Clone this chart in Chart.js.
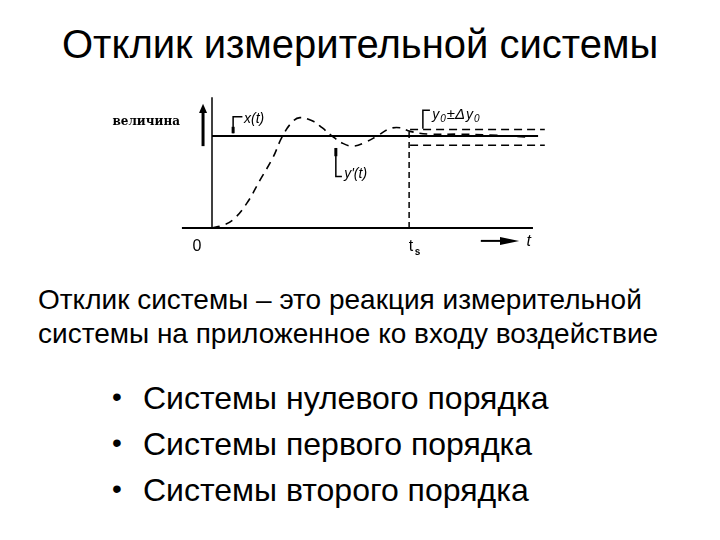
<!DOCTYPE html>
<html>
<head>
<meta charset="utf-8">
<script src="https://cdn.jsdelivr.net/npm/chart.js@4.4.1/dist/chart.umd.min.js"></script>
<style>
  html, body { margin: 0; padding: 0; background: #fff; }
  body { width: 720px; height: 540px; position: relative; overflow: hidden; font-family: "Liberation Sans", Arial, sans-serif; color: #000; }
  .titulo { position: absolute; left: 62px; top: 22px; font-size: 40px; white-space: nowrap; }
  .parrafo { position: absolute; left: 38px; top: 283px; font-size: 28px; line-height: 34px; white-space: nowrap; }
  .lista { position: absolute; left: 112px; top: 376px; font-size: 32px; line-height: 45px; margin: 0; padding: 0; list-style: none; }
  .lista li { white-space: nowrap; }
  .lista li::before { content: "\2022"; display: inline-block; width: 31px; font-size: 28px; position: relative; top: -3px; }
  #marco { position: absolute; left: 100px; top: 90px; width: 460px; height: 175px; }
</style>
</head>
<body>
<div class="titulo">Отклик измерительной системы</div>
<div id="marco"><canvas id="grafico"></canvas></div>
<div class="parrafo">Отклик системы – это реакция измерительной<br>системы на приложенное ко входу воздействие</div>
<ul class="lista">
  <li>Системы нулевого порядка</li>
  <li>Системы первого порядка</li>
  <li>Системы второго порядка</li>
</ul>
<script>
// Reacción y'(t) (t en unidades arbitrarias, amplitud relativa al escalón)
const respuestaT = [0, 0.34, 0.66, 1.09, 1.5, 1.91, 2.19, 2.5, 2.75, 3.16, 3.44, 3.75, 4.09, 4.41, 4.78, 5.16, 5.56, 5.88, 6.19, 6.81, 7.75, 8.69, 9.84];
const respuestaY = [0, 0.03, 0.09, 0.27, 0.52, 0.77, 0.99, 1.15, 1.20, 1.16, 1.09, 1.0, 0.92, 0.89, 0.93, 1.0, 1.08, 1.09, 1.05, 1.02, 1.02, 1.01, 0.99];

// Escalón de entrada x(t)
const escalonT = [0, 10.19];
const escalonY = [1, 1];

// Banda de tolerancia y0 ± Δy0
const bandaT = [6.19, 10.4];
const bandaSup = [1.07, 1.07];
const bandaInf = [0.9, 0.9];

// Tiempo de establecimiento t_s
const tiempoTs = 6.16;
const alturaTs = 1.05;

// Ejes
const ejeXT = [-0.94, 10.03];
const ejeYTope = 1.42;

const pares = (xs, ys) => xs.map((x, i) => ({ x: x, y: ys[i] }));

// Rótulos del esquema dibujados sobre las escalas
const rotulos = {
    id: 'rotulos',
    afterDatasetsDraw(chart) {
        const ctx = chart.ctx;
        const sx = chart.scales.x, sy = chart.scales.y;
        const px = v => sx.getPixelForValue(v);
        const py = v => sy.getPixelForValue(v);
        ctx.save();
        ctx.fillStyle = '#000';
        ctx.strokeStyle = '#000';

        // "величина" y flecha vertical
        ctx.font = 'bold 12px "DejaVu Serif", serif';
        ctx.textAlign = 'right';
        ctx.textBaseline = 'middle';
        ctx.fillText('величина', px(-1.0), py(1.15));
        ctx.lineWidth = 3;
        ctx.beginPath();
        ctx.moveTo(px(-0.28), py(0.89));
        ctx.lineTo(px(-0.28), py(1.26));
        ctx.stroke();
        ctx.beginPath();
        ctx.moveTo(px(-0.28) - 4, py(1.25));
        ctx.lineTo(px(-0.28) + 4, py(1.25));
        ctx.lineTo(px(-0.28), py(1.35));
        ctx.closePath();
        ctx.fill();

        // x(t)
        ctx.lineWidth = 1.5;
        ctx.beginPath();
        ctx.moveTo(px(0.66), py(1.03));
        ctx.lineTo(px(0.66), py(1.21));
        ctx.lineTo(px(0.95), py(1.21));
        ctx.stroke();
        ctx.lineWidth = 3;
        ctx.beginPath();
        ctx.moveTo(px(0.66), py(1.03));
        ctx.lineTo(px(0.66), py(1.1));
        ctx.stroke();
        ctx.font = 'italic 14px "Liberation Sans", sans-serif';
        ctx.textAlign = 'left';
        ctx.textBaseline = 'alphabetic';
        ctx.fillText('x(t)', px(1.0), py(1.14));

        // y'(t)
        ctx.lineWidth = 1.5;
        ctx.beginPath();
        ctx.moveTo(px(3.87), py(0.87));
        ctx.lineTo(px(3.87), py(0.56));
        ctx.lineTo(px(4.06), py(0.56));
        ctx.stroke();
        ctx.lineWidth = 3;
        ctx.beginPath();
        ctx.moveTo(px(3.87), py(0.87));
        ctx.lineTo(px(3.87), py(0.78));
        ctx.stroke();
        ctx.fillText("y'(t)", px(4.13), py(0.54));

        // y0 ± Δy0
        ctx.lineWidth = 1.5;
        ctx.beginPath();
        ctx.moveTo(px(6.59), py(1.08));
        ctx.lineTo(px(6.59), py(1.28));
        ctx.lineTo(px(6.81), py(1.28));
        ctx.stroke();
        let x0 = px(6.88);
        const base = py(1.19);
        const trozos = [['y', 14, 0], ['0', 10, 3], ['±Δ', 15, 0], ['y', 14, 0], ['0', 10, 3]];
        trozos.forEach(([txt, tam, dy]) => {
            ctx.font = 'italic ' + tam + 'px "Liberation Sans", sans-serif';
            ctx.fillText(txt, x0, base + dy);
            x0 += ctx.measureText(txt).width + 1;
        });

        // 0, t_s, flecha → t
        ctx.font = '16px "Liberation Sans", sans-serif';
        ctx.textAlign = 'center';
        ctx.fillText('0', px(-0.47), py(-0.25));
        ctx.fillText('t', px(6.22), py(-0.25));
        ctx.font = 'bold 10px "Liberation Sans", sans-serif';
        ctx.fillText('s', px(6.42), py(-0.29));
        ctx.lineWidth = 2;
        ctx.beginPath();
        ctx.moveTo(px(8.4), py(-0.14));
        ctx.lineTo(px(9.3), py(-0.14));
        ctx.stroke();
        ctx.beginPath();
        ctx.moveTo(px(9.0), py(-0.14) - 4);
        ctx.lineTo(px(9.6), py(-0.14));
        ctx.lineTo(px(9.0), py(-0.14) + 4);
        ctx.closePath();
        ctx.fill();
        ctx.font = 'italic 16px "Liberation Sans", sans-serif';
        ctx.fillText('t', px(9.9), py(-0.2));
        ctx.restore();
    }
};

const lineaBase = { showLine: true, pointRadius: 0, borderColor: '#000', fill: false };

new Chart(document.getElementById('grafico'), {
    type: 'scatter',
    data: {
        datasets: [
            { ...lineaBase, label: 'eje y', data: [{ x: 0, y: 0 }, { x: 0, y: ejeYTope }], borderWidth: 1.5 },
            { ...lineaBase, label: 'eje t', data: pares(ejeXT, [0, 0]), borderWidth: 2 },
            { ...lineaBase, label: 'x(t)', data: pares(escalonT, escalonY), borderWidth: 2 },
            { ...lineaBase, label: 'y0+Δy0', data: pares(bandaT, bandaSup), borderWidth: 1.5, borderDash: [8, 5] },
            { ...lineaBase, label: 'y0-Δy0', data: pares(bandaT, bandaInf), borderWidth: 1.5, borderDash: [8, 5] },
            { ...lineaBase, label: 'ts', data: [{ x: tiempoTs, y: 0 }, { x: tiempoTs, y: alturaTs }], borderWidth: 1.5, borderDash: [6, 4] },
            { ...lineaBase, label: "y'(t)", data: pares(respuestaT, respuestaY), borderWidth: 1.6, borderDash: [8, 6], tension: 0.4 }
        ]
    },
    options: {
        responsive: true,
        maintainAspectRatio: false,
        animation: false,
        layout: { padding: 0 },
        scales: {
            x: { type: 'linear', display: false, min: -3.5, max: 10.875 },
            y: { type: 'linear', display: false, min: -0.402, max: 1.5 }
        },
        plugins: { legend: { display: false }, tooltip: { enabled: false } }
    },
    plugins: [rotulos]
});
</script>
</body>
</html>
